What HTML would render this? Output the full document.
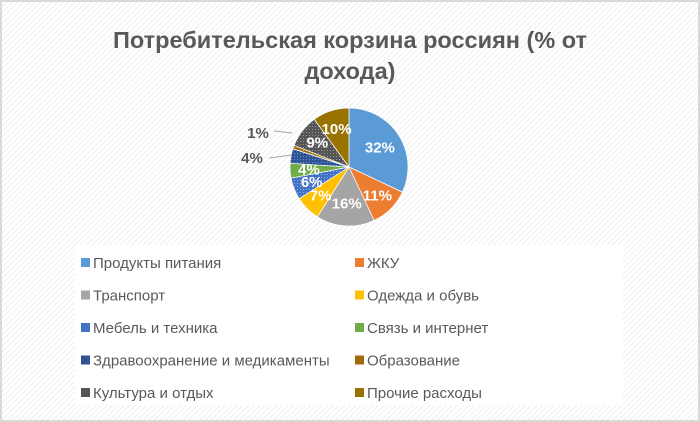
<!DOCTYPE html>
<html><head><meta charset="utf-8"><style>
body{margin:0;width:700px;height:422px;overflow:hidden;font-family:"Liberation Sans",sans-serif;}
#wrap{position:absolute;left:0;top:0;width:696px;height:418px;border:2px solid #d9d9d9;
background:repeating-linear-gradient(135deg,#fff 0 3px,#efefef 3px 4px);}
</style></head><body>
<div id="wrap">
<svg width="700" height="422" style="position:absolute;left:-2px;top:-2px">
<defs>
<pattern id="dotb" width="3" height="3" patternUnits="userSpaceOnUse"><rect width="3" height="3" fill="#4472C4"/><rect width="1" height="1" fill="#8fb0e8"/></pattern>
<pattern id="dotd" width="3" height="3" patternUnits="userSpaceOnUse"><rect width="3" height="3" fill="#2f5597"/><rect width="1" height="1" fill="#6f8fc8"/></pattern>
<pattern id="dotbr" width="3" height="3" patternUnits="userSpaceOnUse"><rect width="3" height="3" fill="#9E6A0E"/><rect width="1" height="1" fill="#d3a050"/></pattern>
<pattern id="dotg" width="3" height="3" patternUnits="userSpaceOnUse"><rect width="3" height="3" fill="#555"/><rect width="1" height="1" fill="#999"/></pattern>
</defs>
<text x="350" y="48" text-anchor="middle" font-size="23.5" font-weight="bold" fill="#595959">Потребительская корзина россиян (% от</text>
<text x="350" y="79" text-anchor="middle" font-size="23.5" font-weight="bold" fill="#595959">дохода)</text>
<rect x="75" y="245" width="548" height="160" fill="#fff"/>
<g id="pie"></g><g id="legend"></g>
<line x1="274" y1="131" x2="292" y2="133" stroke="#a6a6a6"/>
<line x1="269" y1="158" x2="292" y2="155" stroke="#a6a6a6"/>
</svg></div>
<script>
const categories=["Продукты питания","ЖКУ","Транспорт","Одежда и обувь","Мебель и техника","Связь и интернет","Здравоохранение и медикаменты","Образование","Культура и отдых","Прочие расходы"];
const values=[32,11,16,7,6,4,4,1,9,10];
const colors=["#5B9BD5","#ED7D31","#A5A5A5","#FFC000","url(#dotb)","#70AD47","url(#dotd)","url(#dotbr)","url(#dotg)","#997300"];
const legendColors=["#5B9BD5","#ED7D31","#A5A5A5","#FFC000","#4472C4","#70AD47","#2f5597","#9E6A0E","#555","#997300"];
const NS="http://www.w3.org/2000/svg";
const cx=349,cy=167,r=59;
const pie=document.getElementById('pie'),leg=document.getElementById('legend');
const total=values.reduce((a,b)=>a+b,0);
let a0=-Math.PI/2;
values.forEach((v,i)=>{
 const a1=a0+v/total*2*Math.PI;
 const p=document.createElementNS(NS,'path');
 const x0=cx+r*Math.cos(a0),y0=cy+r*Math.sin(a0),x1=cx+r*Math.cos(a1),y1=cy+r*Math.sin(a1);
 p.setAttribute('d',`M${cx},${cy}L${x0},${y0}A${r},${r} 0 ${a1-a0>Math.PI?1:0} 1 ${x1},${y1}Z`);
 p.setAttribute('fill',colors[i]);
 p.setAttribute('stroke','#fff');p.setAttribute('stroke-width','0.7');
 
 
 pie.appendChild(p);
 const am=(a0+a1)/2;
 const t=document.createElementNS(NS,'text');
 let tx,ty,fill='#fff';
 if(v<=1){tx=258;ty=138;fill='#595959';}
 else if(i===6){tx=252;ty=163;fill='#595959';}
 else{const rr=v>=16?0.62:0.68;tx=cx+r*rr*Math.cos(am);ty=cy+r*rr*Math.sin(am)+5;}
 t.setAttribute('x',tx);t.setAttribute('y',ty);t.setAttribute('text-anchor','middle');
 t.setAttribute('font-size','15');t.setAttribute('font-weight','bold');t.setAttribute('fill',fill);
 t.textContent=v+'%';
 
 
 pie.appendChild(t);
 a0=a1;
});
categories.forEach((c,i)=>{
 const col=i%2,row=Math.floor(i/2);
 const x=col?355:81,y=263+row*32.5;
 const g=document.createElementNS(NS,'g');
 
 
 const m=document.createElementNS(NS,'rect');
 m.setAttribute('x',x);m.setAttribute('y',y-5);m.setAttribute('width',9);m.setAttribute('height',9);m.setAttribute('fill',legendColors[i]);
 g.appendChild(m);
 const t=document.createElementNS(NS,'text');
 t.setAttribute('x',x+12);t.setAttribute('y',y+5);t.setAttribute('font-size','15');t.setAttribute('fill','#595959');
 t.textContent=c;g.appendChild(t);
 leg.appendChild(g);
});
</script>
</body></html>
